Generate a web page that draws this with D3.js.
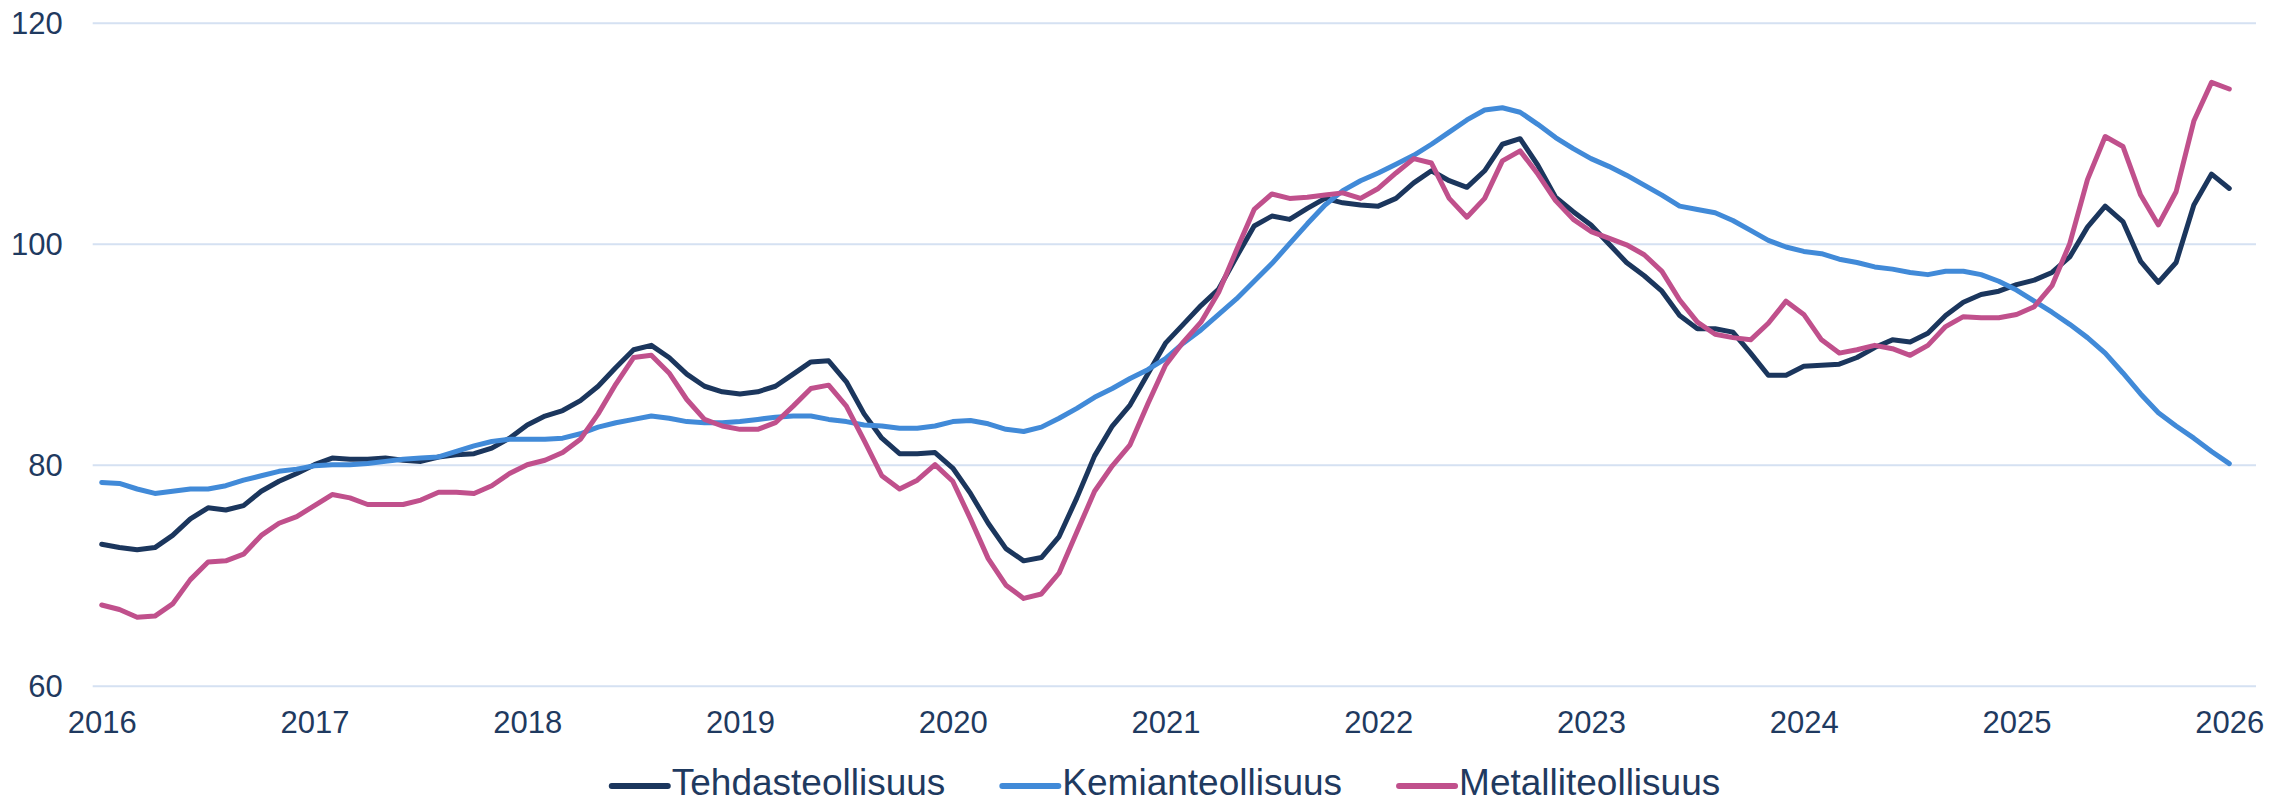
<!DOCTYPE html>
<html>
<head>
<meta charset="utf-8">
<script src="https://cdn.jsdelivr.net/npm/d3@7"></script>
<style>
  html, body { margin: 0; padding: 0; background: #ffffff; }
  svg { display: block; }
  text { font-family: "Liberation Sans", Arial, sans-serif; fill: #1f3a60; }
</style>
</head>
<body>
<svg id="chart" width="2295" height="803"></svg>
<script>
// ---- Data (monthly, Jan 2016 .. Jan 2026) ----
const yearLabels = ["2016","2017","2018","2019","2020","2021","2022","2023","2024","2025","2026"];
const yTicks = [60, 80, 100, 120];
const seriesNames = ["Tehdasteollisuus", "Kemianteollisuus", "Metalliteollisuus"];

const tehdasteollisuus = [
  72.8, 72.5, 72.3, 72.5, 73.6, 75.1, 76.1, 75.9, 76.3, 77.6, 78.5, 79.2,
  80.0, 80.6, 80.5, 80.5, 80.6, 80.4, 80.3, 80.7, 80.9, 81.0, 81.5, 82.4,
  83.6, 84.4, 84.9, 85.8, 87.1, 88.8, 90.4, 90.8, 89.7, 88.2, 87.1, 86.6,
  86.4, 86.6, 87.1, 88.2, 89.3, 89.4, 87.5, 84.6, 82.4, 81.0, 81.0, 81.1,
  79.7, 77.4, 74.7, 72.4, 71.3, 71.6, 73.5, 77.0, 80.8, 83.5, 85.4, 88.2,
  91.0, 92.7, 94.4, 95.9, 98.8, 101.6, 102.5, 102.2, 103.2, 104.1, 103.7, 103.5,
  103.4, 104.1, 105.5, 106.6, 105.7, 105.1, 106.6, 109.0, 109.5, 107.1, 104.2, 102.9,
  101.7, 100.0, 98.3, 97.1, 95.7, 93.5, 92.3, 92.3, 92.0, 90.1, 88.1, 88.1,
  88.9, 89.0, 89.1, 89.7, 90.6, 91.3, 91.1, 91.9, 93.5, 94.7, 95.4, 95.7,
  96.3, 96.7, 97.4, 98.8, 101.5, 103.4, 102.0, 98.4, 96.5, 98.3, 103.5, 106.3,
  105.0
];

const kemianteollisuus = [
  78.4, 78.3, 77.8, 77.4, 77.6, 77.8, 77.8, 78.1, 78.6, 79.0, 79.4, 79.6,
  79.9, 80.0, 80.0, 80.1, 80.3, 80.5, 80.6, 80.7, 81.2, 81.7, 82.1, 82.3,
  82.3, 82.3, 82.4, 82.8, 83.4, 83.8, 84.1, 84.4, 84.2, 83.9, 83.8, 83.8,
  83.9, 84.1, 84.3, 84.4, 84.4, 84.1, 83.9, 83.6, 83.5, 83.3, 83.3, 83.5,
  83.9, 84.0, 83.7, 83.2, 83.0, 83.4, 84.2, 85.1, 86.1, 86.9, 87.8, 88.6,
  89.6, 91.0, 92.2, 93.6, 95.0, 96.6, 98.2, 100.0, 101.8, 103.5, 104.8, 105.7,
  106.4, 107.2, 108.0, 109.0, 110.1, 111.2, 112.1, 112.3, 111.9, 110.8, 109.6, 108.6,
  107.7, 107.0, 106.2, 105.3, 104.4, 103.4, 103.1, 102.8, 102.1, 101.2, 100.3, 99.7,
  99.3, 99.1, 98.6, 98.3, 97.9, 97.7, 97.4, 97.2, 97.5, 97.5, 97.2, 96.6,
  95.8, 94.8, 93.8, 92.7, 91.5, 90.1, 88.3, 86.4, 84.7, 83.5, 82.4, 81.2,
  80.1
];

const metalliteollisuus = [
  67.3, 66.9, 66.2, 66.3, 67.4, 69.6, 71.2, 71.3, 71.9, 73.6, 74.7, 75.3,
  76.3, 77.3, 77.0, 76.4, 76.4, 76.4, 76.8, 77.5, 77.5, 77.4, 78.1, 79.2,
  80.0, 80.4, 81.1, 82.3, 84.6, 87.3, 89.7, 89.9, 88.3, 85.9, 84.1, 83.5,
  83.2, 83.2, 83.8, 85.3, 86.9, 87.2, 85.3, 82.2, 79.0, 77.8, 78.6, 80.0,
  78.5, 75.1, 71.5, 69.1, 67.9, 68.3, 70.2, 73.9, 77.6, 79.9, 81.8, 85.5,
  89.0, 91.1, 92.9, 95.6, 99.4, 103.1, 104.5, 104.1, 104.2, 104.4, 104.6, 104.1,
  105.0, 106.4, 107.7, 107.3, 104.1, 102.4, 104.1, 107.5, 108.4, 106.3, 103.9, 102.2,
  101.1, 100.5, 99.9, 99.0, 97.5, 94.9, 92.9, 91.8, 91.5, 91.3, 92.8, 94.8,
  93.6, 91.3, 90.1, 90.4, 90.8, 90.5, 89.9, 90.8, 92.5, 93.4, 93.3, 93.3,
  93.6, 94.3, 96.2, 100.0, 105.8, 109.7, 108.8, 104.4, 101.7, 104.7, 111.1, 114.6,
  114.0
];

const seriesColors = ["#1b365d", "#418ad8", "#c0508c"];
const seriesData = [tehdasteollisuus, kemianteollisuus, metalliteollisuus];

// ---- Layout ----
const svg = d3.select("#chart");
const W = 2295, H = 803;
svg.append("rect").attr("width", W).attr("height", H).attr("fill", "#ffffff");

const gridLeft = 92.7, gridRight = 2256;
const x = d3.scaleLinear().domain([0, 120]).range([101.7, 2229.3]);
const y = d3.scaleLinear().domain([60, 120]).range([685.7, 22.7]);

// Gridlines + y labels
const yAxis = d3.axisLeft(y).tickValues(yTicks).tickSize(-(gridRight - gridLeft)).tickPadding(30);
const gy = svg.append("g").attr("transform", `translate(${gridLeft},0)`).call(yAxis);
gy.select(".domain").remove();
gy.selectAll(".tick line").attr("stroke", "#d5e1f2").attr("stroke-width", 2);
gy.selectAll(".tick text")
  .attr("font-size", 31)
  .attr("font-family", "'Liberation Sans', Arial, sans-serif")
  .attr("fill", "#1f3a60")
  .attr("dy", "0.36em");

// X axis labels
const xAxis = d3.axisBottom(x)
  .tickValues(d3.range(0, 121, 12))
  .tickFormat((d, i) => yearLabels[i])
  .tickSize(0)
  .tickPadding(0);
const gx = svg.append("g").attr("transform", `translate(0,${y(60)})`).call(xAxis);
gx.select(".domain").remove();
gx.selectAll(".tick text")
  .attr("font-size", 31)
  .attr("font-family", "'Liberation Sans', Arial, sans-serif")
  .attr("fill", "#1f3a60")
  .attr("y", 47)
  .attr("dy", 0);

// Lines
const line = d3.line().x((d, i) => x(i)).y(d => y(d));
seriesData.forEach((s, k) => {
  svg.append("path")
    .datum(s)
    .attr("fill", "none")
    .attr("stroke", seriesColors[k])
    .attr("stroke-width", 5)
    .attr("stroke-linejoin", "round")
    .attr("stroke-linecap", "round")
    .attr("d", line);
});

// Legend
const legend = svg.append("g");
const legendY = 782;
const swatchLen = 56, swatchGap = 4, itemGap = 57;
const items = seriesNames.map((name, k) => {
  const g = legend.append("g");
  g.append("line")
    .attr("x1", 0).attr("x2", swatchLen)
    .attr("y1", 4).attr("y2", 4)
    .attr("stroke", seriesColors[k]).attr("stroke-width", 6)
    .attr("stroke-linecap", "round");
  const t = g.append("text")
    .attr("x", swatchLen + swatchGap)
    .attr("y", 0)
    .attr("dy", "0.35em")
    .attr("font-size", 37)
    .attr("fill", "#1f3a60")
    .text(name);
  return { g, w: swatchLen + swatchGap + t.node().getComputedTextLength() };
});
const totalW = d3.sum(items, d => d.w) + itemGap * (items.length - 1);
let cx = 1166 - totalW / 2;
items.forEach(it => {
  it.g.attr("transform", `translate(${cx},${legendY})`);
  cx += it.w + itemGap;
});
</script>
</body>
</html>
